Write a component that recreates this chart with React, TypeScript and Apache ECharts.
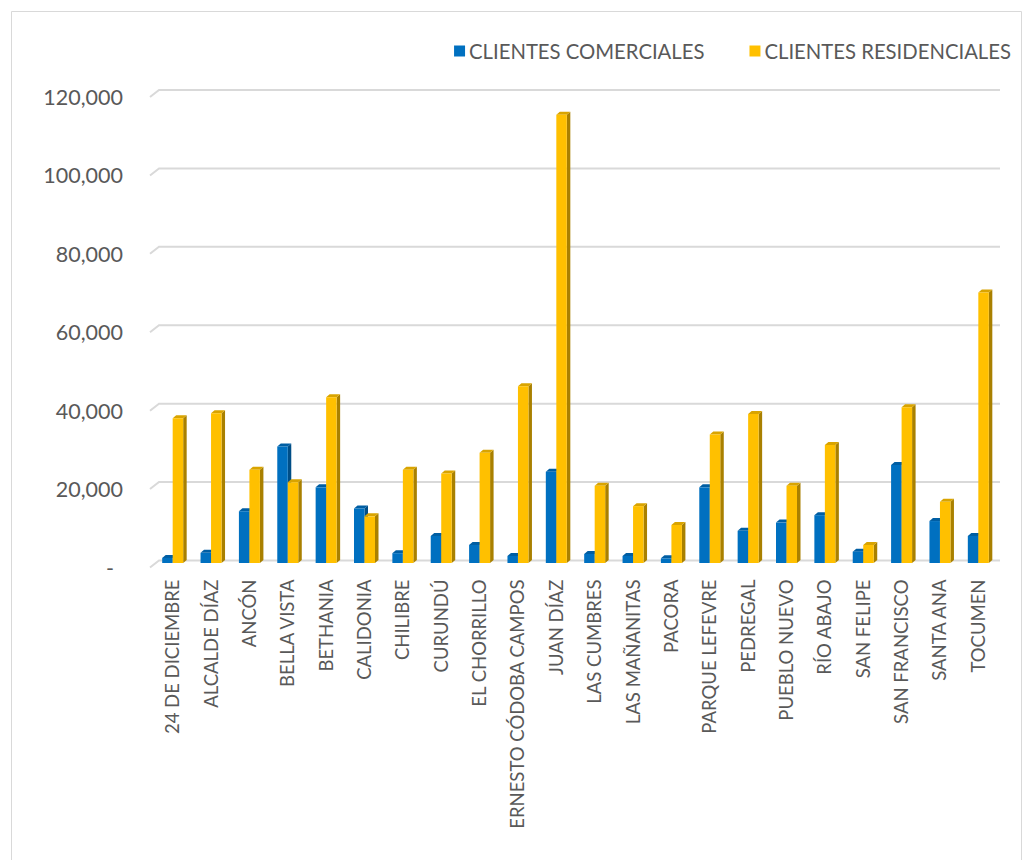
import React, { useEffect, useRef } from "react";
import * as echarts from "echarts";

const categories = [
  "24 DE DICIEMBRE", "ALCALDE DÍAZ", "ANCÓN", "BELLA VISTA", "BETHANIA", "CALIDONIA",
  "CHILIBRE", "CURUNDÚ", "EL CHORRILLO", "ERNESTO CÓDOBA CAMPOS", "JUAN DÍAZ",
  "LAS CUMBRES", "LAS MAÑANITAS", "PACORA", "PARQUE LEFEVRE", "PEDREGAL",
  "PUEBLO NUEVO", "RÍO ABAJO", "SAN FELIPE", "SAN FRANCISCO", "SANTA ANA", "TOCUMEN",
];
const comerciales = [
  1300, 2600, 13200, 29700, 19300, 13900, 2500, 6900, 4600, 1800, 23300,
  2300, 1800, 1200, 19300, 8200, 10300, 12200, 2900, 25000, 10700, 6900,
];
const residenciales = [
  36900, 38200, 23800, 20600, 42300, 11900, 23800, 22800, 28100, 45100, 114300,
  19700, 14500, 9700, 32800, 38000, 19700, 30100, 4600, 39700, 15600, 69000,
];
const yTicks = [0, 20000, 40000, 60000, 80000, 100000, 120000];

const BLUE = { front: "#0070C0", side: "#004E87", top: "#005EA3" };
const GOLD = { front: "#FFC000", side: "#A98000", top: "#D9A400" };
const FONT = "Lato";
const TEXT = "#595959";

const BAR_W = 10.5;
const DEPTH_X = 3.5;
const DEPTH_Y = 3;
const BAR_DY = -4.5;

function makeBar(colors: any, isLeft: boolean) {
  return (params: any, api: any) => {
    const i = api.value(0);
    const v = api.value(1);
    const top = api.coord([i, v]);
    const base = api.coord([i, 0]);
    const cx = top[0] + 0.5;
    const x1 = isLeft ? cx - BAR_W : cx;
    const x2 = x1 + BAR_W;
    const yt = top[1] + BAR_DY;
    const yb = base[1] + BAR_DY;
    return {
      type: "group",
      children: [
        {
          type: "polygon",
          shape: { points: [[x2, yt], [x2 + DEPTH_X, yt - DEPTH_Y], [x2 + DEPTH_X, yb - DEPTH_Y], [x2, yb]] },
          style: { fill: colors.side },
        },
        {
          type: "polygon",
          shape: { points: [[x1, yt], [x1 + DEPTH_X, yt - DEPTH_Y], [x2 + DEPTH_X, yt - DEPTH_Y], [x2, yt]] },
          style: { fill: colors.top },
        },
        {
          type: "rect",
          shape: { x: x1, y: yt, width: BAR_W, height: yb - yt },
          style: { fill: colors.front },
        },
      ],
    };
  };
}

export default function App() {
  const ref = useRef<HTMLDivElement>(null);
  useEffect(() => {
    if (!ref.current) return;
    const chart = echarts.init(ref.current, null, { renderer: "svg" });
    chart.setOption({
      animation: false,
      backgroundColor: "#ffffff",
      graphic: [
        {
          type: "rect",
          shape: { x: 11.5, y: 11.5, width: 1010, height: 870 },
          style: { fill: "none", stroke: "#d9d9d9", lineWidth: 1 },
          z: -10,
        },
      ],
      legend: {
        top: 36,
        right: 12,
        itemWidth: 11,
        itemHeight: 11,
        itemGap: 45,
        icon: "rect",
        textStyle: { fontFamily: FONT, fontSize: 20.3, color: TEXT, padding: [0, 0, 0, -1] },
        data: [
          { name: "CLIENTES COMERCIALES", itemStyle: { color: BLUE.front } },
          { name: "CLIENTES RESIDENCIALES", itemStyle: { color: GOLD.front } },
        ],
      },
      grid: { left: 153, right: 31, top: 97, bottom: 292.5, containLabel: false },
      xAxis: {
        type: "category",
        data: categories,
        axisLine: { show: false },
        axisTick: { show: false },
        axisLabel: {
          rotate: 90,
          interval: 0,
          margin: 12,
          fontFamily: FONT,
          fontSize: 18.5,
          color: TEXT,
        },
      },
      yAxis: {
        type: "value",
        min: 0,
        max: 120000,
        interval: 20000,
        splitLine: { show: false },
        axisLine: { show: false },
        axisTick: { show: false },
        axisLabel: {
          margin: 30,
          fontFamily: FONT,
          fontSize: 21.5,
          color: TEXT,
          formatter: (v: number) => (v === 0 ? "{d|-}" : v.toLocaleString("en-US")),
          rich: { d: { fontFamily: FONT, fontSize: 21.5, color: TEXT, padding: [0, 9, 0, 0] } },
        },
      },
      series: [
        {
          type: "custom",
          name: "grid",
          silent: true,
          z: 0,
          data: yTicks.map((v) => [0, v]),
          renderItem: (params: any, api: any) => {
            const cs = params.coordSys;
            const y = api.coord([0, api.value(1)])[1];
            return {
              type: "polyline",
              shape: { points: [[cs.x - 3, y], [cs.x + 6, y - 7], [cs.x + cs.width + 3, y - 7]] },
              style: { stroke: "#d9d9d9", lineWidth: 2, fill: "none" },
            };
          },
        },
        {
          type: "custom",
          name: "CLIENTES COMERCIALES",
          itemStyle: { color: BLUE.front },
          z: 2,
          data: comerciales.map((v, i) => [i, v]),
          renderItem: makeBar(BLUE, true),
        },
        {
          type: "custom",
          name: "CLIENTES RESIDENCIALES",
          itemStyle: { color: GOLD.front },
          z: 3,
          data: residenciales.map((v, i) => [i, v]),
          renderItem: makeBar(GOLD, false),
        },
      ],
    });
    return () => chart.dispose();
  }, []);
  return (
    <div
      ref={ref}
      style={{ position: "absolute", left: 0, top: 0, width: 1028, height: 860 }}
    />
  );
}
